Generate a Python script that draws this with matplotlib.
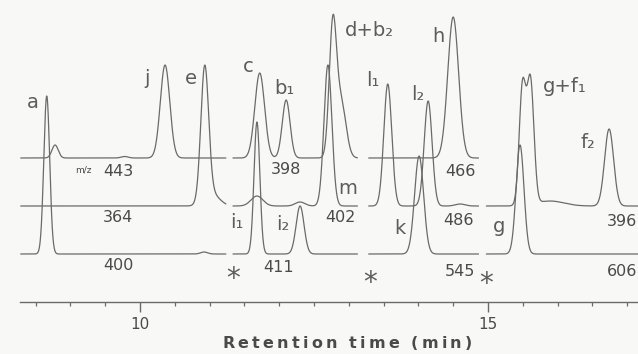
import numpy as np
import matplotlib
matplotlib.use("Agg")
import matplotlib.pyplot as plt
from matplotlib.font_manager import FontProperties

W, H = 638, 354

# ---------------- data ----------------
# time windows of the four acquisition segments (min)
seg_start = [8.28, 11.33, 13.28, 14.97]
seg_end = [11.24, 13.13, 14.87, 17.16]

# ion channel labels (m/z) per segment: top, middle, bottom trace
mz_seg1 = ["443", "364", "400"]
mz_seg2 = ["398", "402", "411"]
mz_seg3 = ["466", "486", "545"]
mz_seg4 = [None, "396", "606"]

# peak tables: retention time (min), height (a.u.), peak width sigma (min)
mz_443 = dict(rt=[8.78, 9.78, 10.36], h=[13, 1.5, 93], w=[0.045, 0.05, 0.068])
mz_364 = dict(rt=[10.93, 11.03], h=[133, 12], w=[0.056, 0.11])
mz_400 = dict(rt=[8.66, 10.92], h=[158, 2], w=[0.042, 0.05])
mz_398 = dict(rt=[11.72, 12.10, 12.77, 12.89], h=[85, 58, 130, 55], w=[0.07, 0.056, 0.052, 0.07])
mz_402 = dict(rt=[11.68, 12.30, 12.70], h=[10, 4, 141], w=[0.085, 0.07, 0.057])
mz_411 = dict(rt=[11.68, 12.30], h=[132, 48], w=[0.042, 0.057])
mz_466 = dict(rt=[14.50], h=[141], w=[0.078])
mz_486 = dict(rt=[13.56, 14.14, 14.60], h=[122, 105, 2], w=[0.057, 0.057, 0.07])
mz_545 = dict(rt=[14.01], h=[98], w=[0.065])
mz_396 = dict(rt=[15.495, 15.61, 15.89, 16.74], h=[117, 123, 5, 77], w=[0.047, 0.05, 0.2, 0.065])
mz_606 = dict(rt=[15.46], h=[109], w=[0.057])

traces_seg = [
    [mz_443, mz_364, mz_400],
    [mz_398, mz_402, mz_411],
    [mz_466, mz_486, mz_545],
    [None, mz_396, mz_606],
]
mz_labels = [mz_seg1, mz_seg2, mz_seg3, mz_seg4]

# ---------------- layout ----------------
LINE = "#6a6a6a"
TXT = "#4a4a4a"
LET = "#5c5c5c"
BG = "#f8f8f7"
levels = [144, 96, 48]          # vertical stacking of the three traces

fig = plt.figure(figsize=(W / 100, H / 100), dpi=100, facecolor=BG)
x0_px, axis_px = 20, 302
t_per_px = 5.0 / 348.0
t_left = 10 - (140 - x0_px) * t_per_px
t_right = 10 + (W - 140) * t_per_px
ax = fig.add_axes([x0_px / W, (H - axis_px) / H, 1 - x0_px / W, axis_px / H])
ax.set_facecolor(BG)
ax.set_xlim(t_left, t_right)
ax.set_ylim(0, axis_px)

for s in range(4):
    t = np.linspace(seg_start[s], seg_end[s], 1600)
    for c in range(3):
        tr = traces_seg[s][c]
        if tr is None:
            continue
        y = np.full_like(t, levels[c], dtype=float)
        for rt, h, w in zip(tr["rt"], tr["h"], tr["w"]):
            y += h * np.exp(-0.5 * ((t - rt) / w) ** 2)
        ax.plot(t, y, color=LINE, lw=0.9, solid_capstyle="butt")

for sp in ["top", "right", "left"]:
    ax.spines[sp].set_visible(False)
ax.spines["bottom"].set_color(LINE)
ax.spines["bottom"].set_linewidth(1.0)
ax.set_yticks([])
ax.set_xticks([10, 15])
ax.set_xticklabels(["10", "15"])
ax.set_xticks([v for v in np.arange(8.5, 17.01, 0.5) if v not in (10, 15)], minor=True)
ax.tick_params(axis="x", which="major", length=7.5, width=1.0, color=LINE,
               labelsize=11, labelcolor=TXT, pad=3)
ax.tick_params(axis="x", which="minor", length=3.0, width=0.9, color=LINE)


def ftext(x, y, s, **kw):
    fig.text(x / W, 1 - y / H, s, ha="center", va="center", **kw)


# peak letters
peak_labels = [
    ("a", 33, 103), ("j", 147, 79), ("e", 191, 78),
    ("c", 248, 66), ("b\u2081", 284, 89), ("d+b\u2082", 369, 30),
    ("m", 348, 188), ("i\u2081", 237, 223), ("i\u2082", 283, 225),
    ("l\u2081", 373, 81), ("l\u2082", 418, 94), ("h", 438, 37), ("k", 400, 228),
    ("g+f\u2081", 565, 87), ("f\u2082", 588, 142), ("g", 499, 227),
]
for s_, x, y in peak_labels:
    ftext(x, y, s_, fontsize=14, color=LET)

# m/z labels
mz_pos = [
    [(118, 171), (118, 218), (118, 265)],
    [(286, 169), (340, 218), (279, 267)],
    [(460, 171), (459, 220), (460, 271)],
    [None, (622, 222), (622, 271)],
]
for s in range(4):
    for c in range(3):
        lab = mz_labels[s][c]
        if lab is None:
            continue
        x, y = mz_pos[s][c]
        ftext(x, y, lab, fontsize=11.5, color=TXT)
ftext(83, 170, "m/z", fontsize=6.5, color=TXT)

# segment-switch asterisks
for x, y in [(233, 279), (370, 283), (486, 284)]:
    ftext(x, y, "*", fontsize=20, color=LET)


# letter-spaced axis title
def spaced_text(xc, y, s, target_w, size, weight, color):
    prop = FontProperties(family="DejaVu Sans", size=size, weight=weight)
    r = fig.canvas.get_renderer()

    def wid(txt):
        return r.get_text_width_height_descent(txt, prop, ismath=False)[0]

    base = wid("||")
    adv = [wid("|" + ch + "|") - base for ch in s]
    extra = (target_w - sum(adv)) / (len(s) - 1)
    x = xc - target_w / 2
    for ch, a in zip(s, adv):
        if ch != " ":
            fig.text((x + a / 2) / W, 1 - y / H, ch, fontproperties=prop,
                     color=color, ha="center", va="center")
        x += a + extra


spaced_text(347, 344, "Retention time (min)", 250, 11.5, "bold", TXT)

fig.savefig("out.png", dpi=100, facecolor=BG)
